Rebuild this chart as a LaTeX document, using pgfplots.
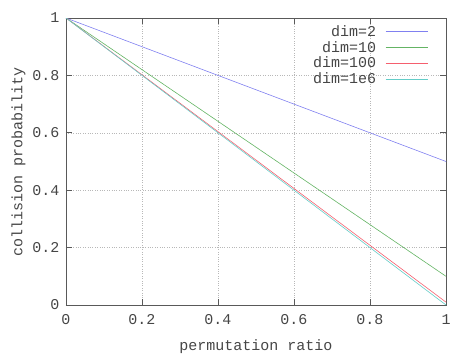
\documentclass[border=0pt]{standalone}
\usepackage{pgfplots}
\pgfplotsset{compat=1.18}
\usepackage{fontspec}
\setmainfont{Liberation Mono}
\definecolor{cblue}{RGB}{128,128,240}
\definecolor{cgreen}{RGB}{100,180,100}
\definecolor{cred}{RGB}{245,95,110}
\definecolor{ccyan}{RGB}{100,205,200}
\definecolor{txt}{RGB}{70,70,70}
\begin{document}
\begin{tikzpicture}
\begin{axis}[
  scale only axis, width=380pt, height=287pt,
  xmin=0, xmax=1, ymin=0, ymax=1,
  xtick={0,0.2,0.4,0.6,0.8,1}, ytick={0,0.2,0.4,0.6,0.8,1},
  xticklabels={0,0.2,0.4,0.6,0.8,1}, yticklabels={0,0.2,0.4,0.6,0.8,1},
  tick align=inside, major tick length=6pt,
  axis line style={draw=black!65, line width=0.8pt},
  tick style={black!65, line width=0.8pt},
  grid=major, major grid style={dotted, black!28, line width=0.6pt},
  ticklabel style={font=\fontsize{15}{16}\selectfont, text=txt},
  xticklabel style={yshift=-6pt},
  yticklabel style={xshift=-3pt},
  /pgf/number format/assume math mode=true,
  xlabel={permutation ratio}, ylabel={collision probability},
  label style={font=\fontsize{15}{16}\selectfont, text=txt},
  xlabel style={yshift=-8pt}, ylabel style={yshift=0pt},
  legend style={draw=none, fill=none, font=\fontsize{15}{15}\selectfont,
    at={(0.953,0.982)}, anchor=north east, inner sep=0pt, row sep=-0.5pt,
    /tikz/every odd column/.append style={column sep=7pt}},
  legend cell align=right, legend plot pos=right,
  every axis plot/.append style={line width=0.6pt, solid},
  legend image code/.code={\draw[#1, line width=0.8pt] (0pt,0pt) -- (42pt,0pt);},
]
\addplot[color=cblue, no marks] coordinates {(0,1) (0.5,0.75) (1,0.5)};
\addlegendentry{\textcolor{txt}{dim=2}}
\addplot[color=cgreen, no marks] coordinates {(0,1) (0.5,0.55) (1,0.1)};
\addlegendentry{\textcolor{txt}{dim=10}}
\addplot[color=cred, no marks] coordinates {(0,1) (0.5,0.505) (1,0.01)};
\addlegendentry{\textcolor{txt}{dim=100}}
\addplot[color=ccyan, no marks] coordinates {(0,1) (0.5,0.5) (1,0.0)};
\addlegendentry{\textcolor{txt}{dim=1e6}}
\end{axis}
\pgfresetboundingbox
\path (-66pt,-49pt) rectangle (408pt,305pt);
\end{tikzpicture}
\end{document}
